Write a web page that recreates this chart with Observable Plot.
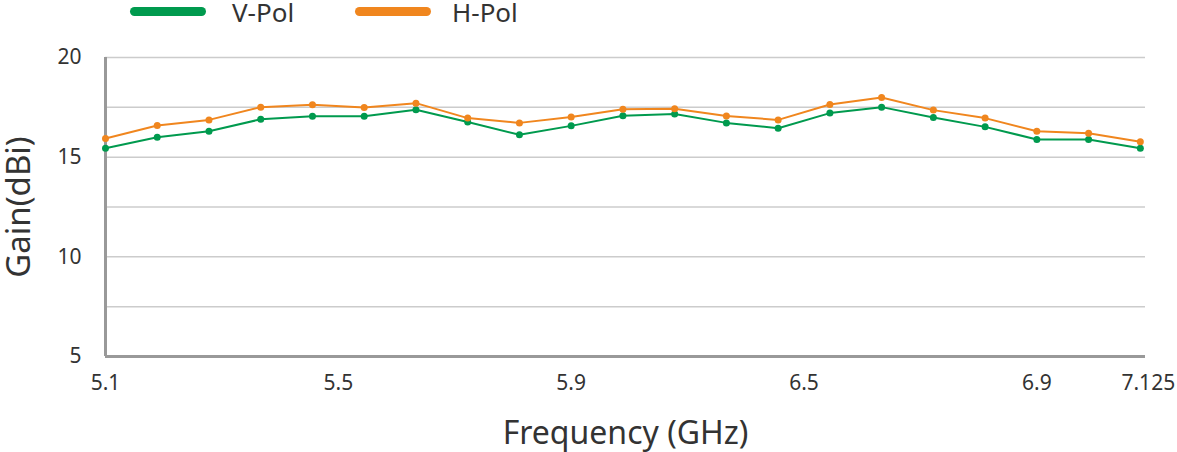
<!DOCTYPE html>
<html>
<head>
<meta charset="utf-8">
<script src="https://cdn.jsdelivr.net/npm/d3@7"></script>
<script src="https://cdn.jsdelivr.net/npm/@observablehq/plot@0.6"></script>
<style>
  body { margin: 0; background: #fff; font-family: "Noto Sans", sans-serif; }
  #wrap { position: relative; width: 1177px; height: 452px; }
  #legend { position: absolute; top: 0; left: 0; height: 26px; width: 100%; }
  .sw { position: absolute; top: 7px; height: 9px; border-radius: 5px; width: 76px; }
  .lab { position: absolute; top: 0; font-size: 26px; color: #333; line-height: 24px; }
</style>
</head>
<body>
<div id="wrap">
  <div id="chart"></div>
  <div id="legend"></div>
</div>
<script>
const seriesNames = ["V-Pol", "H-Pol"];
const seriesColors = ["#009a4e", "#f0861e"];
const vPol = [15.45, 16.0, 16.3, 16.9, 17.05, 17.05, 17.38, 16.76, 16.12, 16.57, 17.08, 17.17, 16.72, 16.45, 17.21, 17.51, 16.99, 16.52, 15.89, 15.89, 15.45];
const hPol = [15.94, 16.59, 16.87, 17.51, 17.63, 17.49, 17.71, 16.96, 16.72, 17.02, 17.4, 17.43, 17.07, 16.87, 17.64, 17.99, 17.36, 16.96, 16.3, 16.2, 15.77];
const xTickPos = [0, 4.5, 9, 13.5, 18, 20];
const xTickLabels = ["5.1", "5.5", "5.9", "6.5", "6.9", "7.125"];
const yTicks = [5, 10, 15, 20];
const yGrid = [7.5, 10, 12.5, 15, 17.5, 20];

const data = [];
[vPol, hPol].forEach((arr, s) => arr.forEach((v, i) => data.push({i, v, s: seriesNames[s]})));

const fmtX = d => xTickLabels[xTickPos.indexOf(d)];
const lastTick = xTickPos[xTickPos.length - 1];

const plot = Plot.plot({
  width: 1177,
  height: 452,
  marginTop: 57,
  marginBottom: 96,
  marginLeft: 105,
  marginRight: 32,
  style: {fontFamily: "Noto Sans, sans-serif", color: "#333", background: "#fff"},
  x: {domain: [0, 20.1]},
  y: {domain: [5, 20]},
  color: {domain: seriesNames, range: seriesColors},
  marks: [
    Plot.ruleY(yGrid, {stroke: "#cccccc", strokeWidth: 1.5}),
    Plot.ruleY([5], {stroke: "#999999", strokeWidth: 3}),
    Plot.ruleX([0], {stroke: "#999999", strokeWidth: 3}),
    Plot.axisY({ticks: yTicks, tickSize: 0, tickPadding: 24, fontSize: 21, label: null}),
    Plot.axisX({ticks: xTickPos.slice(0, -1), tickFormat: fmtX, tickSize: 0, tickPadding: 19, fontSize: 21, label: null}),
    Plot.axisX({ticks: [lastTick], tickFormat: fmtX, tickSize: 0, tickPadding: 19, fontSize: 21, label: null, dx: 8}),
    Plot.line(data, {x: "i", y: "v", z: "s", stroke: "s", strokeWidth: 2}),
    Plot.dot(data, {x: "i", y: "v", fill: "s", r: 3.5}),
    Plot.text(["Frequency (GHz)"], {frameAnchor: "bottom", dy: 77, fontSize: 32, fill: "#333", lineAnchor: "middle"}),
    Plot.text(["Gain(dBi)"], {frameAnchor: "left", dx: -86, rotate: -90, fontSize: 33, fill: "#333", lineAnchor: "middle", textAnchor: "middle"})
  ]
});
document.getElementById("chart").appendChild(plot);

const legend = document.getElementById("legend");
const swX = [130, 355];
const labX = [232, 452];
seriesNames.forEach((n, k) => {
  const sw = document.createElement("div");
  sw.className = "sw";
  sw.style.left = swX[k] + "px";
  sw.style.background = seriesColors[k];
  legend.appendChild(sw);
  const lb = document.createElement("div");
  lb.className = "lab";
  lb.style.left = labX[k] + "px";
  lb.textContent = n;
  legend.appendChild(lb);
});
</script>
</body>
</html>
